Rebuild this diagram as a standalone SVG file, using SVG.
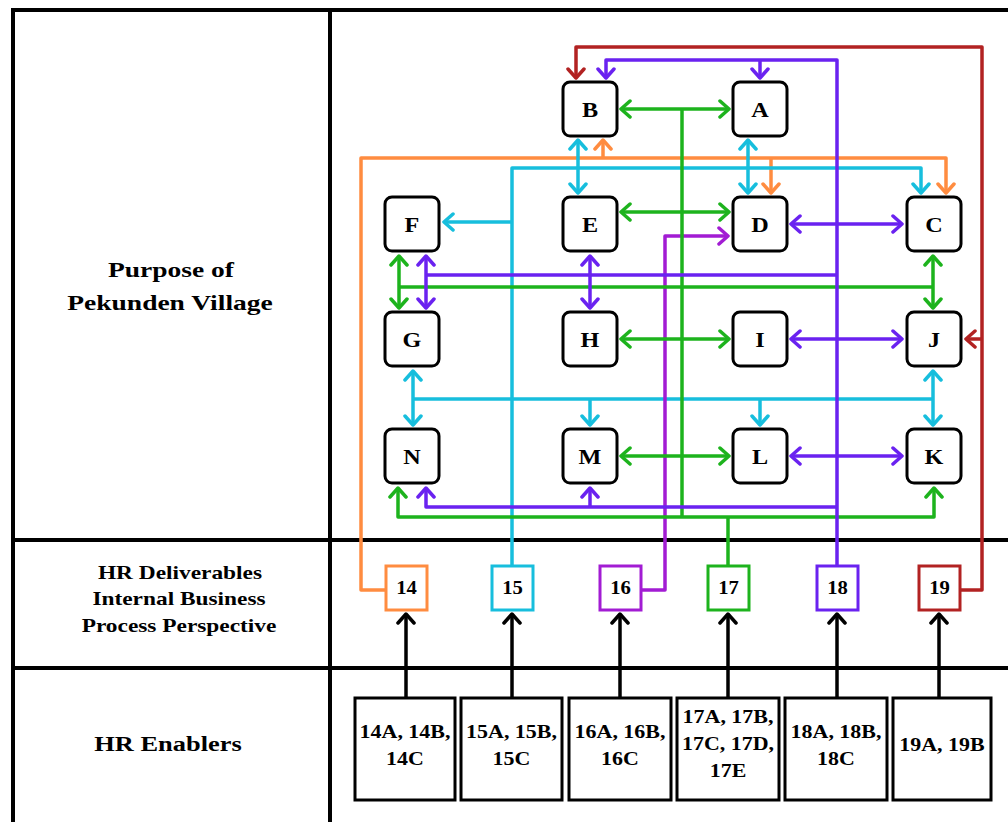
<svg xmlns="http://www.w3.org/2000/svg" width="1008" height="822" viewBox="0 0 1008 822">
<style>
text{font-family:"Liberation Serif","Times New Roman",serif;font-weight:bold;fill:#000;text-anchor:middle}
.lbl{font-size:22px}
.sub{font-size:19px}
.let{font-size:22px}
.num{font-size:18px}
.en{font-size:18px}
.frame{stroke:#000;stroke-width:4;fill:none}
.box{fill:#fff;stroke:#000;stroke-width:3}
.nb{fill:#fff;stroke-width:3}
.c{fill:none;stroke-width:3.5;stroke-linejoin:round}
.or{stroke:#FF8C40}.cy{stroke:#17BEDD}.mg{stroke:#A21CD3}.gr{stroke:#1DB31D}.vi{stroke:#6A22F0}.rd{stroke:#B22222}.bk{stroke:#000}
.or>.h,.ma-or{}
</style>
<defs>
<marker id="mor" viewBox="-11 -10 13 20" refX="0" refY="0" markerWidth="13" markerHeight="20" markerUnits="userSpaceOnUse" orient="auto-start-reverse"><path d="M-9,-8 L0,0 L-9,8" fill="none" stroke="#FF8C40" stroke-width="3.5" stroke-linecap="round" stroke-linejoin="round"/></marker>
<marker id="mcy" viewBox="-11 -10 13 20" refX="0" refY="0" markerWidth="13" markerHeight="20" markerUnits="userSpaceOnUse" orient="auto-start-reverse"><path d="M-9,-8 L0,0 L-9,8" fill="none" stroke="#17BEDD" stroke-width="3.5" stroke-linecap="round" stroke-linejoin="round"/></marker>
<marker id="mmg" viewBox="-11 -10 13 20" refX="0" refY="0" markerWidth="13" markerHeight="20" markerUnits="userSpaceOnUse" orient="auto-start-reverse"><path d="M-9,-8 L0,0 L-9,8" fill="none" stroke="#A21CD3" stroke-width="3.5" stroke-linecap="round" stroke-linejoin="round"/></marker>
<marker id="mgr" viewBox="-11 -10 13 20" refX="0" refY="0" markerWidth="13" markerHeight="20" markerUnits="userSpaceOnUse" orient="auto-start-reverse"><path d="M-9,-8 L0,0 L-9,8" fill="none" stroke="#1DB31D" stroke-width="3.5" stroke-linecap="round" stroke-linejoin="round"/></marker>
<marker id="mvi" viewBox="-11 -10 13 20" refX="0" refY="0" markerWidth="13" markerHeight="20" markerUnits="userSpaceOnUse" orient="auto-start-reverse"><path d="M-9,-8 L0,0 L-9,8" fill="none" stroke="#6A22F0" stroke-width="3.5" stroke-linecap="round" stroke-linejoin="round"/></marker>
<marker id="mrd" viewBox="-11 -10 13 20" refX="0" refY="0" markerWidth="13" markerHeight="20" markerUnits="userSpaceOnUse" orient="auto-start-reverse"><path d="M-9,-8 L0,0 L-9,8" fill="none" stroke="#B22222" stroke-width="3.5" stroke-linecap="round" stroke-linejoin="round"/></marker>
<marker id="mbk" viewBox="-11 -10 13 20" refX="0" refY="0" markerWidth="13" markerHeight="20" markerUnits="userSpaceOnUse" orient="auto-start-reverse"><path d="M-9,-8 L0,0 L-9,8" fill="none" stroke="#000" stroke-width="3.5" stroke-linecap="round" stroke-linejoin="round"/></marker>
</defs>
<rect width="1008" height="822" fill="#fff"/>
<g id="frame" class="frame">
<path d="M11,10 H1008"/>
<path d="M13,10 V822"/>
<path d="M330,10 V822"/>
<path d="M13,540 H1008"/>
<path d="M13,668 H1008"/>
</g>
<g id="row-labels">
<text class="lbl" transform="translate(171,277) scale(1.25,1)">Purpose of</text>
<text class="lbl" transform="translate(170,310) scale(1.25,1)">Pekunden Village</text>
<text class="sub" transform="translate(180,579) scale(1.23,1)">HR Deliverables</text>
<text class="sub" transform="translate(179,605) scale(1.23,1)">Internal Business</text>
<text class="sub" transform="translate(179,632) scale(1.23,1)">Process Perspective</text>
<text class="lbl" transform="translate(168,751) scale(1.2,1)">HR Enablers</text>
</g>
<g id="connectors">
<!-- orange 14 -->
<g class="c or">
<path d="M386,590 H361 V158 H946 V193" marker-end="url(#mor)"/>
<path d="M603,158 V140" marker-end="url(#mor)"/>
<path d="M771,158 V193" marker-end="url(#mor)"/>
</g>
<!-- cyan 15 -->
<g class="c cy">
<path d="M512,566 V168 H921 V193" marker-end="url(#mcy)"/>
<path d="M512,222 H444" marker-end="url(#mcy)"/>
<path d="M578,140 V193" marker-start="url(#mcy)" marker-end="url(#mcy)"/>
<path d="M748,140 V193" marker-start="url(#mcy)" marker-end="url(#mcy)"/>
<path d="M413,399 H933"/>
<path d="M413,371 V425" marker-start="url(#mcy)" marker-end="url(#mcy)"/>
<path d="M933,371 V425" marker-start="url(#mcy)" marker-end="url(#mcy)"/>
<path d="M590,399 V425" marker-end="url(#mcy)"/>
<path d="M760,399 V425" marker-end="url(#mcy)"/>
</g>
<!-- magenta 16 -->
<g class="c mg">
<path d="M641,590 H665 V236 H728" marker-end="url(#mmg)"/>
</g>
<!-- green 17 -->
<g class="c gr">
<path d="M728,566 V517"/>
<path d="M398,488 V517 H934 V488" marker-start="url(#mgr)" marker-end="url(#mgr)"/>
<path d="M682,109 V517"/>
<path d="M621,109 H729" marker-start="url(#mgr)" marker-end="url(#mgr)"/>
<path d="M621,212 H729" marker-start="url(#mgr)" marker-end="url(#mgr)"/>
<path d="M621,339 H729" marker-start="url(#mgr)" marker-end="url(#mgr)"/>
<path d="M621,456 H729" marker-start="url(#mgr)" marker-end="url(#mgr)"/>
<path d="M399,287 H933"/>
<path d="M399,256 V308" marker-start="url(#mgr)" marker-end="url(#mgr)"/>
<path d="M933,256 V308" marker-start="url(#mgr)" marker-end="url(#mgr)"/>
</g>
<!-- violet 18 -->
<g class="c vi">
<path d="M837,566 V60 H606 V78" marker-end="url(#mvi)"/>
<path d="M760,60 V78" marker-end="url(#mvi)"/>
<path d="M791,224 H902" marker-start="url(#mvi)" marker-end="url(#mvi)"/>
<path d="M791,339 H902" marker-start="url(#mvi)" marker-end="url(#mvi)"/>
<path d="M791,456 H902" marker-start="url(#mvi)" marker-end="url(#mvi)"/>
<path d="M426,275 H837"/>
<path d="M426,256 V308" marker-start="url(#mvi)" marker-end="url(#mvi)"/>
<path d="M590,256 V308" marker-start="url(#mvi)" marker-end="url(#mvi)"/>
<path d="M837,507 H426 V488" marker-end="url(#mvi)"/>
<path d="M590,507 V488" marker-end="url(#mvi)"/>
</g>
<!-- red 19 -->
<g class="c rd">
<path d="M958,590 H982 V47 H576 V78" marker-end="url(#mrd)"/>
<path d="M982,339 H966" marker-end="url(#mrd)"/>
</g>
<!-- enabler arrows -->
<g class="c bk">
<path d="M406,698 V614" marker-end="url(#mbk)"/>
<path d="M512,698 V614" marker-end="url(#mbk)"/>
<path d="M620,698 V614" marker-end="url(#mbk)"/>
<path d="M728,698 V614" marker-end="url(#mbk)"/>
<path d="M837,698 V614" marker-end="url(#mbk)"/>
<path d="M939,698 V614" marker-end="url(#mbk)"/>
</g>
</g>
<g id="node-A"><rect class="box" x="733" y="82" width="54" height="54" rx="7"/><text class="let" transform="translate(760,117) scale(1.1,1)">A</text></g>
<g id="node-B"><rect class="box" x="563" y="82" width="54" height="54" rx="7"/><text class="let" transform="translate(590,117) scale(1.1,1)">B</text></g>
<g id="node-C"><rect class="box" x="907" y="197" width="54" height="54" rx="7"/><text class="let" transform="translate(934,232) scale(1.1,1)">C</text></g>
<g id="node-D"><rect class="box" x="733" y="197" width="54" height="54" rx="7"/><text class="let" transform="translate(760,232) scale(1.1,1)">D</text></g>
<g id="node-E"><rect class="box" x="563" y="197" width="54" height="54" rx="7"/><text class="let" transform="translate(590,232) scale(1.1,1)">E</text></g>
<g id="node-F"><rect class="box" x="385" y="197" width="54" height="54" rx="7"/><text class="let" transform="translate(412,232) scale(1.1,1)">F</text></g>
<g id="node-G"><rect class="box" x="385" y="312" width="54" height="54" rx="7"/><text class="let" transform="translate(412,347) scale(1.1,1)">G</text></g>
<g id="node-H"><rect class="box" x="563" y="312" width="54" height="54" rx="7"/><text class="let" transform="translate(590,347) scale(1.1,1)">H</text></g>
<g id="node-I"><rect class="box" x="733" y="312" width="54" height="54" rx="7"/><text class="let" transform="translate(760,347) scale(1.1,1)">I</text></g>
<g id="node-J"><rect class="box" x="907" y="312" width="54" height="54" rx="7"/><text class="let" transform="translate(934,347) scale(1.1,1)">J</text></g>
<g id="node-K"><rect class="box" x="907" y="429" width="54" height="54" rx="7"/><text class="let" transform="translate(934,464) scale(1.1,1)">K</text></g>
<g id="node-L"><rect class="box" x="733" y="429" width="54" height="54" rx="7"/><text class="let" transform="translate(760,464) scale(1.1,1)">L</text></g>
<g id="node-M"><rect class="box" x="563" y="429" width="54" height="54" rx="7"/><text class="let" transform="translate(590,464) scale(1.1,1)">M</text></g>
<g id="node-N"><rect class="box" x="385" y="429" width="54" height="54" rx="7"/><text class="let" transform="translate(412,464) scale(1.1,1)">N</text></g>
<g id="node-14"><rect class="nb" x="386" y="566" width="41" height="44" stroke="#FF8C40"/><text class="num" transform="translate(406.5,594) scale(1.15,1)">14</text></g>
<g id="node-15"><rect class="nb" x="492" y="566" width="41" height="44" stroke="#17BEDD"/><text class="num" transform="translate(512.5,594) scale(1.15,1)">15</text></g>
<g id="node-16"><rect class="nb" x="600" y="566" width="41" height="44" stroke="#A21CD3"/><text class="num" transform="translate(620.5,594) scale(1.15,1)">16</text></g>
<g id="node-17"><rect class="nb" x="708" y="566" width="41" height="44" stroke="#1DB31D"/><text class="num" transform="translate(728.5,594) scale(1.15,1)">17</text></g>
<g id="node-18"><rect class="nb" x="817" y="566" width="41" height="44" stroke="#6A22F0"/><text class="num" transform="translate(837.5,594) scale(1.15,1)">18</text></g>
<g id="node-19"><rect class="nb" x="919" y="566" width="41" height="44" stroke="#B22222"/><text class="num" transform="translate(939.5,594) scale(1.15,1)">19</text></g>
<g id="enabler-14"><rect class="box" x="355" y="698" width="100" height="102"/><text class="en" transform="translate(405,738) scale(1.22,1)">14A, 14B,</text><text class="en" transform="translate(405,765) scale(1.22,1)">14C</text></g>
<g id="enabler-15"><rect class="box" x="461" y="698" width="101" height="102"/><text class="en" transform="translate(511.5,738) scale(1.22,1)">15A, 15B,</text><text class="en" transform="translate(511.5,765) scale(1.22,1)">15C</text></g>
<g id="enabler-16"><rect class="box" x="569" y="698" width="102" height="102"/><text class="en" transform="translate(620,738) scale(1.22,1)">16A, 16B,</text><text class="en" transform="translate(620,765) scale(1.22,1)">16C</text></g>
<g id="enabler-17"><rect class="box" x="677" y="698" width="102" height="102"/><text class="en" transform="translate(728,723) scale(1.22,1)">17A, 17B,</text><text class="en" transform="translate(728,750) scale(1.22,1)">17C, 17D,</text><text class="en" transform="translate(728,777) scale(1.22,1)">17E</text></g>
<g id="enabler-18"><rect class="box" x="785" y="698" width="102" height="102"/><text class="en" transform="translate(836,738) scale(1.22,1)">18A, 18B,</text><text class="en" transform="translate(836,765) scale(1.22,1)">18C</text></g>
<g id="enabler-19"><rect class="box" x="893" y="698" width="98" height="102"/><text class="en" transform="translate(942,751) scale(1.22,1)">19A, 19B</text></g>
</svg>
